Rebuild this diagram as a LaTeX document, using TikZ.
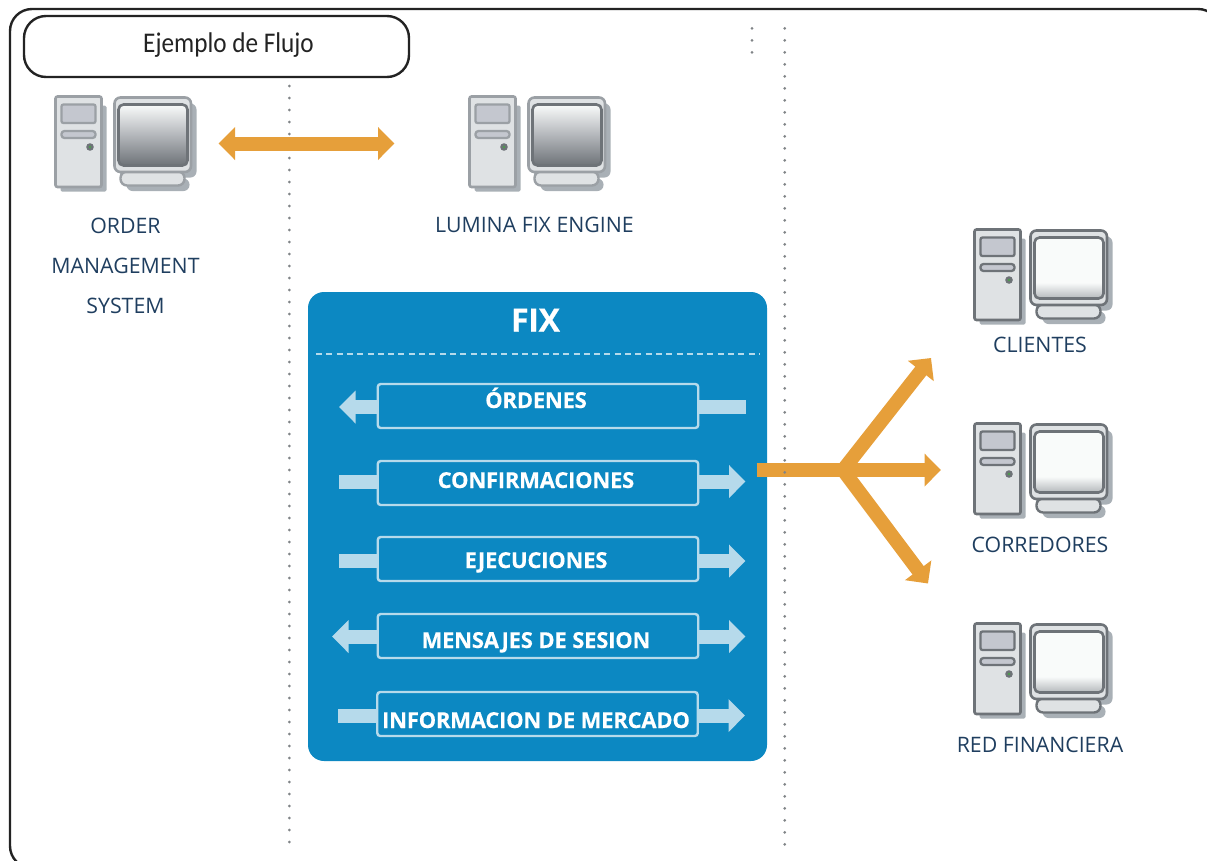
\documentclass[tikz,border=0pt]{standalone}
\usepackage{fontspec}
\setmainfont{Open Sans}
\newfontfamily\headfont[FakeStretch=0.885]{Carlito}
\newfontfamily\msgfont[LetterSpace=-1,FakeBold=0.25]{Open Sans Bold}
\usetikzlibrary{arrows.meta}
\definecolor{frameblack}{HTML}{232323}
\definecolor{fixblue}{HTML}{0C88C2}
\definecolor{lightblue}{HTML}{B6DAEB}
\definecolor{orangearrow}{HTML}{E69F3A}
\definecolor{navytext}{HTML}{1F3E5F}
\definecolor{dotgray}{HTML}{808487}
\definecolor{shadowgray}{HTML}{A9B0B6}
\definecolor{bodygray}{HTML}{DFE2E4}
\definecolor{panelgray}{HTML}{C4C7CF}
\definecolor{scrw}{HTML}{F9FBFA}
\definecolor{scrm}{HTML}{B9BCC0}
\definecolor{scrd}{HTML}{6E7378}
\definecolor{scre}{HTML}{B4B8BB}
\definecolor{bodyold}{HTML}{9BA0A5}
\pgfdeclareverticalshading{screenA}{100bp}{color(0bp)=(scrd); color(25bp)=(scrd); color(52bp)=(scrm); color(75bp)=(scrw); color(100bp)=(scrw)}
\pgfdeclareverticalshading{screenB}{100bp}{color(0bp)=(scre); color(25bp)=(scre); color(38bp)=(scrw); color(100bp)=(scrw)}
\tikzset{
  x=1pt,y=-1pt,
  dotline/.style={dotgray,line width=3pt,line cap=round,dash pattern=on 0pt off 12pt},
  bigarrow/.style={orangearrow,line width=14pt,-{Triangle[length=16.5pt,width=32pt]}},
  bigdouble/.style={orangearrow,line width=14pt,{Triangle[length=16.5pt,width=32pt]}-{Triangle[length=16.5pt,width=32pt]}},
  msgout/.style={lightblue,line width=14pt,-{Triangle[length=16.5pt,width=32pt]}},
  msgstub/.style={lightblue,line width=14pt},
  msgbox/.style={draw=lightblue,line width=2.4pt,rounded corners=3pt,minimum width=320.5pt,minimum height=44pt,inner sep=0pt,anchor=center},
  msgtext/.style={text=white,font=\msgfont\fontsize{22}{26}\selectfont,inner sep=0pt,anchor=base},
  complabel/.style={text=navytext,font=\fontsize{21.3}{40}\selectfont,align=center,inner sep=0pt,anchor=center},
  pcstroke/.initial=gray,
  pcscreen/.initial=screenA,
  pcdx/.initial=0pt,
  oldpc/.style={pcstroke=bodyold,pcscreen=screenA,pcdx=0pt},
  newpc/.style={pcstroke=scrd,pcscreen=screenB,pcdx=-3pt},
  computer/.pic={
    \fill[shadowgray,rounded corners=1.5pt] (6,10) rectangle (52,96);
    \draw[fill=bodygray,draw=\pgfkeysvalueof{/tikz/pcstroke},line width=2.6pt,rounded corners=2pt] (1,1) rectangle (47,91.5);
    \draw[fill=panelgray,draw=\pgfkeysvalueof{/tikz/pcstroke},line width=2.3pt,rounded corners=2pt] (7,9) rectangle (41,27.5);
    \draw[fill=panelgray,draw=\pgfkeysvalueof{/tikz/pcstroke},line width=2.3pt,rounded corners=3pt] (7,35.5) rectangle (41,42.5);
    \fill[scrd] (35.5,51.5) circle (3.8pt);
    \fill[green!45!black!70] (35.5,51.5) circle (1.4pt);
    \begin{scope}[xshift=\pgfkeysvalueof{/tikz/pcdx}]
      \fill[shadowgray,rounded corners=6pt] (65,8) rectangle (142,82);
      \fill[shadowgray,rounded corners=6pt] (72,83) rectangle (135,95.5);
      \draw[fill=bodygray,draw=\pgfkeysvalueof{/tikz/pcstroke},line width=2.4pt,rounded corners=6.5pt] (66,76) rectangle (130,90);
      \draw[fill=bodygray,draw=\pgfkeysvalueof{/tikz/pcstroke},line width=2.6pt,rounded corners=6pt] (60,2) rectangle (136.5,76.5);
      \draw[shading=\pgfkeysvalueof{/tikz/pcscreen},draw=scrd,line width=2.6pt,rounded corners=5pt] (64,9) rectangle (133,70);
    \end{scope}
  }
}
\begin{document}
\begin{tikzpicture}
\useasboundingbox (0,0) rectangle (1207,860);
% frame
\draw[frameblack,line width=2.4pt,rounded corners=22pt] (10,9) rectangle (1220,868);
% dotted dividers under the arrows
\coordinate (divAtop) at (289.3,86);
\coordinate (divAbot) at (289.3,842);
\draw[dotline] (divAtop) -- (divAbot);
\coordinate (divCtop) at (752,28.3);
\coordinate (divCbot) at (752,53);
\draw[dotline] (divCtop) -- (divCbot);
% header
\node[draw=frameblack,line width=2.4pt,rounded corners=22pt,minimum width=385pt,minimum height=61pt,inner sep=0pt] (header) at (216.5,46.5) {};
\node[text=frameblack,font=\headfont\fontsize{28.5}{32}\selectfont,inner sep=0pt] (headertext) at (228.5,45) {Ejemplo de Flujo};
% computers
\pic[oldpc] at (54.5,95.5) {computer};
\pic[oldpc] at (468.5,95.5) {computer};
\pic[newpc] at (973.5,228.5) {computer};
\pic[newpc] at (973.5,422.5) {computer};
\pic[newpc] at (973.5,622.5) {computer};
% labels
\node[complabel] (oms) at (125.5,266) {ORDER\\MANAGEMENT\\SYSTEM};
\node[complabel] (lumina) at (534.5,225) {LUMINA FIX ENGINE};
\node[complabel] (clientes) at (1040,345) {CLIENTES};
\node[complabel] (corredores) at (1040,545) {CORREDORES};
\node[complabel] (red) at (1040,745) {RED FINANCIERA};
% link
\coordinate (linkL) at (218.5,143.5);
\coordinate (linkR) at (394.5,143.5);
\draw[bigdouble] (linkL) -- (linkR);
% FIX panel
\node[fill=fixblue,rounded corners=16pt,minimum width=459pt,minimum height=469pt,inner sep=0pt] (panel) at (537.5,526.5) {};
\node[text=white,font=\msgfont\fontsize{32}{36}\selectfont,inner sep=0pt,anchor=base] (fixtitle) at (535.5,331.5) {FIX};
\coordinate (dashL) at (316,354);
\coordinate (dashR) at (760,354);
\draw[lightblue,line width=2.8pt,dash pattern=on 6pt off 4.3pt] (dashL) -- (dashR);
% message boxes
\foreach \nm/\yy in {ordenes/406,confirm/483,ejec/559,mens/636} {
  \node[msgbox] (\nm) at (538,\yy) {};
}
\node[msgbox] (info) at (537.5,714) {};
\coordinate (o1) at (339,407); \coordinate (o2) at (745.5,407);
\coordinate (c1) at (339,481.5); \coordinate (c2) at (745.5,481.5);
\coordinate (e1) at (339,561); \coordinate (e2) at (745.5,561);
\coordinate (m1) at (332,636.5); \coordinate (m2) at (745.5,636.5);
\coordinate (i1) at (338,715.5); \coordinate (i2) at (745,715.5);
\draw[msgout] (ordenes.west |- o1) -- (o1);
\draw[msgstub] (ordenes.east |- o2) -- (o2);
\draw[msgstub] (confirm.west |- c1) -- (c1);
\draw[msgout] (confirm.east |- c2) -- (c2);
\draw[msgstub] (ejec.west |- e1) -- (e1);
\draw[msgout] (ejec.east |- e2) -- (e2);
\draw[msgout] (mens.west |- m1) -- (m1);
\draw[msgout] (mens.east |- m2) -- (m2);
\draw[msgstub] (info.west |- i1) -- (i1);
\draw[msgout] (info.east |- i2) -- (i2);
\node[msgtext] (tordenes) at (536,408) {ÓRDENES};
\node[msgtext] (tconfirm) at (536,488) {CONFIRMACIONES};
\node[msgtext] (tejec) at (536,568) {EJECUCIONES};
\node[msgtext] (tmens) at (536,648) {MENSAJES DE SESION};
\node[msgtext] (tinfo) at (536,728) {INFORMACION DE MERCADO};
% trident
\coordinate (hubstart) at (756.5,470);
\coordinate (hub) at (843,470);
\coordinate (tipup) at (931,358);
\coordinate (tipmid) at (941,470);
\coordinate (tipdown) at (928,583.5);
\draw[orangearrow,line width=14pt] (hubstart) -- (hub);
\draw[bigarrow] (hub) -- (tipup);
\draw[bigarrow] (hub) -- (tipmid);
\draw[bigarrow] (hub) -- (tipdown);
% right divider above the arrow
\coordinate (divBtop) at (784.7,28.3);
\coordinate (divBbot) at (784.7,845);
\draw[dotline] (divBtop) -- (divBbot);
\end{tikzpicture}
\end{document}
